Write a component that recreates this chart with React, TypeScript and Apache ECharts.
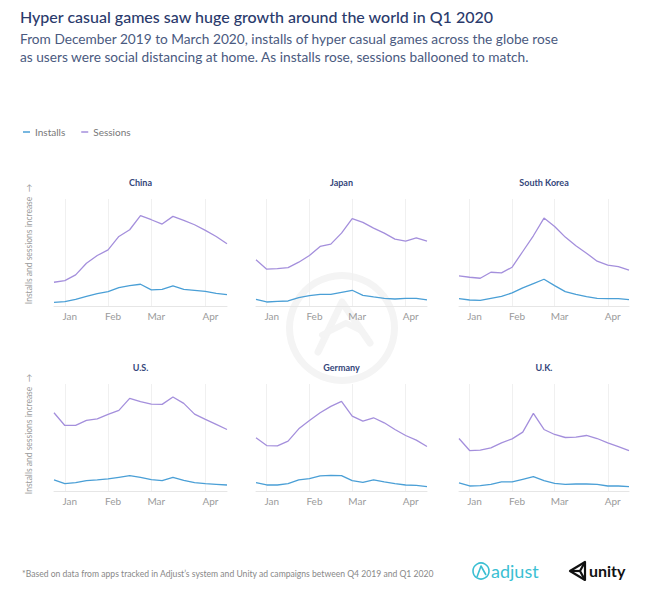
import React, { useEffect, useRef } from "react";
import * as echarts from "echarts";

const weeks = ["", "Jan", "", "", "", "Feb", "", "", "", "Mar", "", "", "", "", "Apr", "", ""];
const countries = ["China", "Japan", "South Korea", "U.S.", "Germany", "U.K."];

const chinaInstalls = [11, 13, 20, 29, 37, 43, 55, 61, 65, 48, 50, 60, 50, 47, 44, 38, 34];
const chinaSessions = [71, 76, 93, 128, 151, 168, 208, 228, 270, 258, 245, 268, 256, 243, 226, 208, 186];
const japanInstalls = [20, 12, 14, 15, 25, 31, 35, 35, 41, 47, 32, 27, 23, 21, 23, 23, 18];
const japanSessions = [138, 110, 112, 115, 131, 151, 178, 185, 218, 261, 250, 233, 218, 200, 194, 204, 194];
const koreaInstalls = [22, 18, 17, 23, 29, 39, 54, 67, 80, 61, 43, 35, 28, 23, 22, 22, 19];
const koreaSessions = [90, 86, 83, 101, 99, 116, 163, 210, 263, 238, 206, 180, 158, 134, 122, 118, 107];
const usInstalls = [33, 22, 25, 31, 33, 36, 41, 46, 41, 34, 31, 41, 32, 25, 22, 20, 18];
const usSessions = [234, 196, 196, 211, 216, 229, 241, 277, 267, 260, 259, 281, 262, 230, 214, 199, 184];
const germanyInstalls = [25, 18, 18, 22, 33, 37, 45, 47, 46, 31, 26, 33, 27, 22, 18, 17, 13];
const germanySessions = [159, 136, 135, 149, 186, 211, 234, 253, 268, 224, 209, 219, 204, 184, 166, 152, 133];
const ukInstalls = [24, 15, 16, 20, 27, 27, 35, 43, 31, 23, 20, 21, 21, 20, 15, 15, 13];
const ukSessions = [157, 121, 122, 129, 144, 156, 176, 232, 184, 169, 160, 161, 166, 157, 144, 133, 121];

const installsData = [chinaInstalls, japanInstalls, koreaInstalls, usInstalls, germanyInstalls, ukInstalls];
const sessionsData = [chinaSessions, japanSessions, koreaSessions, usSessions, germanySessions, ukSessions];

const INSTALLS_COLOR = "#4a9fd6";
const SESSIONS_COLOR = "#a48fdc";
const FONT = "Lato, 'Noto Sans', sans-serif";

export default function App() {
  const ref = useRef<HTMLDivElement>(null);
  useEffect(() => {
    document.body.style.margin = "0";
    const chart = echarts.init(ref.current!, null, { renderer: "svg" });
    const colLeft = [54, 256, 459];
    const colWidth = [173, 171, 170];
    const rowTop = [199, 384];
    const grids: any[] = [];
    const xAxes: any[] = [];
    const yAxes: any[] = [];
    const series: any[] = [];
    const graphics: any[] = [];

    graphics.push({
      type: "ring",
      shape: { cx: 342, cy: 328, r: 56, r0: 49 },
      style: { fill: "#f4f4f4" },
      silent: true,
    });
    graphics.push({
      type: "polyline",
      shape: { points: [[318, 352], [342, 302], [370, 343]] },
      style: { stroke: "#f4f4f4", lineWidth: 7, fill: "none", lineJoin: "round", lineCap: "round" },
      silent: true,
    });
    graphics.push({
      type: "polyline",
      shape: { points: [[322, 335], [346, 323], [360, 330]] },
      style: { stroke: "#f4f4f4", lineWidth: 6, fill: "none", lineJoin: "round", lineCap: "round" },
      silent: true,
    });

    countries.forEach((name, i) => {
      const r = Math.floor(i / 3);
      const c = i % 3;
      grids.push({ left: colLeft[c], top: rowTop[r], width: colWidth[c], height: 107 });
      xAxes.push({
        type: "category",
        gridIndex: i,
        data: weeks,
        boundaryGap: false,
        axisLine: { lineStyle: { color: "#e6e6e6", width: 1 } },
        axisTick: { show: false },
        axisLabel: {
          interval: 0,
          color: "#9b9b9b",
          fontSize: 10,
          margin: 5,
          padding: [0, 0, 0, 10],
          fontFamily: FONT,
        },
        splitLine: {
          show: true,
          interval: (idx: number, val: string) => val !== "",
          lineStyle: { color: "#f0f0f0", width: 1 },
        },
      });
      yAxes.push({ type: "value", gridIndex: i, min: 0, max: 320, show: false });
      series.push({
        name: "Installs",
        type: "line",
        xAxisIndex: i,
        yAxisIndex: i,
        data: installsData[i],
        showSymbol: false,
        lineStyle: { color: INSTALLS_COLOR, width: 1.3 },
        itemStyle: { color: INSTALLS_COLOR },
      });
      series.push({
        name: "Sessions",
        type: "line",
        xAxisIndex: i,
        yAxisIndex: i,
        data: sessionsData[i],
        showSymbol: false,
        lineStyle: { color: SESSIONS_COLOR, width: 1.3 },
        itemStyle: { color: SESSIONS_COLOR },
      });
      graphics.push({
        type: "text",
        x: colLeft[c] + colWidth[c] / 2,
        y: rowTop[r] - 17,
        style: {
          text: name,
          fill: "#34467a",
          font: `bold 9px ${FONT}`,
          textAlign: "center",
          textVerticalAlign: "middle",
        },
      });
    });

    [244, 434].forEach((cy) => {
      graphics.push({
        type: "text",
        x: 29,
        y: cy,
        rotation: Math.PI / 2,
        style: {
          text: "Installs and sessions increase  \u2192",
          fill: "#9b9b9b",
          font: `8.5px ${FONT}`,
          textAlign: "center",
          textVerticalAlign: "middle",
        },
      });
    });

    graphics.push({
      type: "text",
      x: 20,
      y: 16,
      style: {
        text: "Hyper casual games saw huge growth around the world in Q1 2020",
        fill: "#2a3a6c",
        font: `500 16px ${FONT}`,
        textVerticalAlign: "middle",
      },
    });
    graphics.push({
      type: "text",
      x: 20,
      y: 38,
      style: {
        text: "From December 2019 to March 2020, installs of hyper casual games across the globe rose",
        fill: "#4a5a80",
        font: `13.7px ${FONT}`,
        textVerticalAlign: "middle",
      },
    });
    graphics.push({
      type: "text",
      x: 20,
      y: 56,
      style: {
        text: "as users were social distancing at home. As installs rose, sessions ballooned to match.",
        fill: "#4a5a80",
        font: `13.7px ${FONT}`,
        textVerticalAlign: "middle",
      },
    });
    graphics.push({
      type: "text",
      x: 22,
      y: 574,
      style: {
        text: "*Based on data from apps tracked in Adjust\u2019s system and Unity ad campaigns between Q4 2019 and Q1 2020",
        fill: "#888888",
        font: `8.6px ${FONT}`,
        textVerticalAlign: "middle",
      },
    });

    // adjust logo
    graphics.push({
      type: "circle",
      shape: { cx: 481, cy: 571, r: 8 },
      style: { fill: "none", stroke: "#3bbfd3", lineWidth: 1.6 },
    });
    graphics.push({
      type: "polyline",
      shape: { points: [[477, 577], [481, 566], [486, 575]] },
      style: { fill: "none", stroke: "#3bbfd3", lineWidth: 1.6, lineJoin: "round" },
    });
    graphics.push({
      type: "text",
      x: 491,
      y: 571,
      style: { text: "adjust", fill: "#3bbfd3", font: `18px ${FONT}`, textVerticalAlign: "middle" },
    });

    // unity logo
    graphics.push({
      type: "polygon",
      shape: { points: [[570, 571], [585, 562], [585, 580]] },
      style: { fill: "none", stroke: "#111111", lineWidth: 2.2, lineJoin: "round" },
    });
    graphics.push({
      type: "polyline",
      shape: { points: [[570, 571], [580, 571]] },
      style: { fill: "none", stroke: "#111111", lineWidth: 2.2 },
    });
    graphics.push({
      type: "polyline",
      shape: { points: [[585, 562], [580, 571], [585, 580]] },
      style: { fill: "none", stroke: "#111111", lineWidth: 2.2 },
    });
    graphics.push({
      type: "text",
      x: 589,
      y: 570,
      style: { text: "unity", fill: "#111111", font: `bold 16px ${FONT}`, textVerticalAlign: "middle" },
    });

    chart.setOption({
      animation: false,
      legend: {
        data: ["Installs", "Sessions"],
        left: 18,
        top: 122,
        icon: "rect",
        itemWidth: 7,
        itemHeight: 1.5,
        itemGap: 16,
        textStyle: { color: "#777777", fontSize: 10, fontFamily: FONT },
      },
      grid: grids,
      xAxis: xAxes,
      yAxis: yAxes,
      series,
      graphic: graphics,
    });
    return () => chart.dispose();
  }, []);
  return <div ref={ref} style={{ width: 655, height: 600 }} />;
}
